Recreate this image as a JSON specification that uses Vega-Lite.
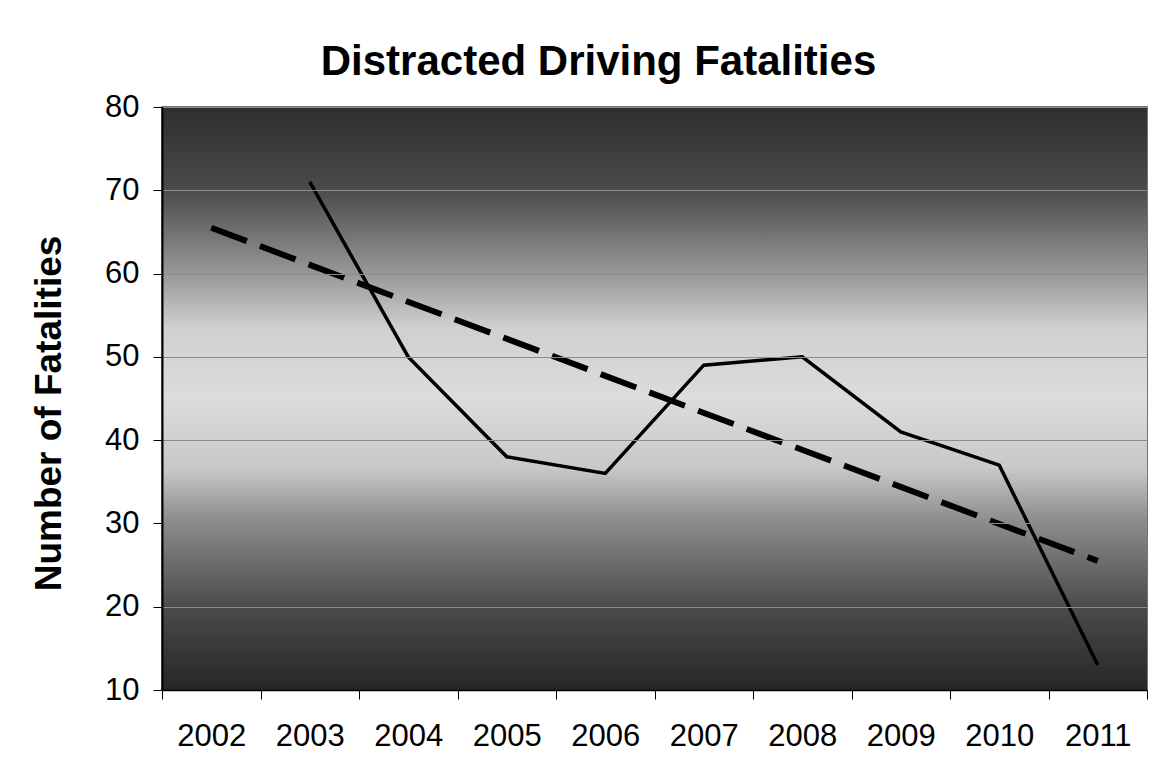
{
  "$schema": "https://vega.github.io/schema/vega-lite/v6.json",
  "width": 985,
  "height": 583,
  "autosize": "none",
  "padding": {"left": 162, "top": 107, "right": 11, "bottom": 92},
  "background": "white",
  "config": {
    "font": "Liberation Sans",
    "view": {"stroke": "#444444", "strokeWidth": 1.5}
  },
  "title": {
    "text": "Distracted Driving Fatalities",
    "fontSize": 42,
    "fontWeight": "bold",
    "color": "black",
    "anchor": "middle",
    "dx": -56,
    "offset": -26,
    "baseline": "alphabetic"
  },
  "datasets": {
    "actual": [
      {"year": "2003", "fatalities": 71},
      {"year": "2004", "fatalities": 50},
      {"year": "2005", "fatalities": 38},
      {"year": "2006", "fatalities": 36},
      {"year": "2007", "fatalities": 49},
      {"year": "2008", "fatalities": 50},
      {"year": "2009", "fatalities": 41},
      {"year": "2010", "fatalities": 37},
      {"year": "2011", "fatalities": 13}
    ],
    "trend": [
      {"year": "2002", "fatalities": 65.5},
      {"year": "2011", "fatalities": 25.5}
    ],
    "panel": [{"top": 80, "bottom": 10}]
  },
  "layer": [
    {
      "data": {"name": "panel"},
      "mark": {
        "type": "rect",
        "color": {
          "gradient": "linear",
          "x1": 0, "y1": 0, "x2": 0, "y2": 1,
          "stops": [
            {"offset": 0, "color": "#2e2e2e"},
            {"offset": 0.14, "color": "#4a4a4a"},
            {"offset": 0.29, "color": "#9a9a9a"},
            {"offset": 0.38, "color": "#d0d0d0"},
            {"offset": 0.5, "color": "#dcdcdc"},
            {"offset": 0.62, "color": "#c8c8c8"},
            {"offset": 0.71, "color": "#8c8c8c"},
            {"offset": 0.86, "color": "#4a4a4a"},
            {"offset": 1, "color": "#262626"}
          ]
        }
      },
      "encoding": {
        "y": {
          "field": "top",
          "type": "quantitative",
          "title": "Number of Fatalities",
          "scale": {"domain": [10, 80], "nice": false, "zero": false},
          "axis": {
            "values": [10, 20, 30, 40, 50, 60, 70, 80],
            "grid": true,
            "gridColor": "#8c8c8c",
            "gridWidth": 1,
            "tickSize": 9,
            "tickColor": "black",
            "domainColor": "black",
            "domainWidth": 2,
            "labelFontSize": 31,
            "labelPadding": 14,
            "labelColor": "black",
            "titleFontSize": 37,
            "titleFontWeight": "bold",
            "titleColor": "black",
            "titlePadding": 36,
            "titleY": 306,
            "zindex": 1
          }
        },
        "y2": {"field": "bottom"}
      }
    },
    {
      "data": {"name": "trend"},
      "mark": {"type": "line", "color": "black", "strokeWidth": 6, "strokeDash": [38, 14]},
      "encoding": {
        "x": {
          "field": "year",
          "type": "ordinal",
          "scale": {"type": "band", "paddingInner": 0, "paddingOuter": 0, "domain": ["2002", "2003", "2004", "2005", "2006", "2007", "2008", "2009", "2010", "2011"]},
          "axis": {
            "title": null,
            "labelAngle": 0,
            "tickBand": "extent",
            "tickSize": 9,
            "tickColor": "black",
            "domainColor": "black",
            "domainWidth": 1.5,
            "labelFontSize": 31,
            "labelPadding": 22,
            "labelColor": "black",
            "grid": false,
            "zindex": 1
          }
        },
        "y": {"field": "fatalities", "type": "quantitative", "title": "Number of Fatalities"}
      }
    },
    {
      "data": {"name": "actual"},
      "mark": {"type": "line", "color": "black", "strokeWidth": 3.5},
      "encoding": {
        "x": {"field": "year", "type": "ordinal"},
        "y": {"field": "fatalities", "type": "quantitative", "title": "Number of Fatalities"}
      }
    }
  ]
}
